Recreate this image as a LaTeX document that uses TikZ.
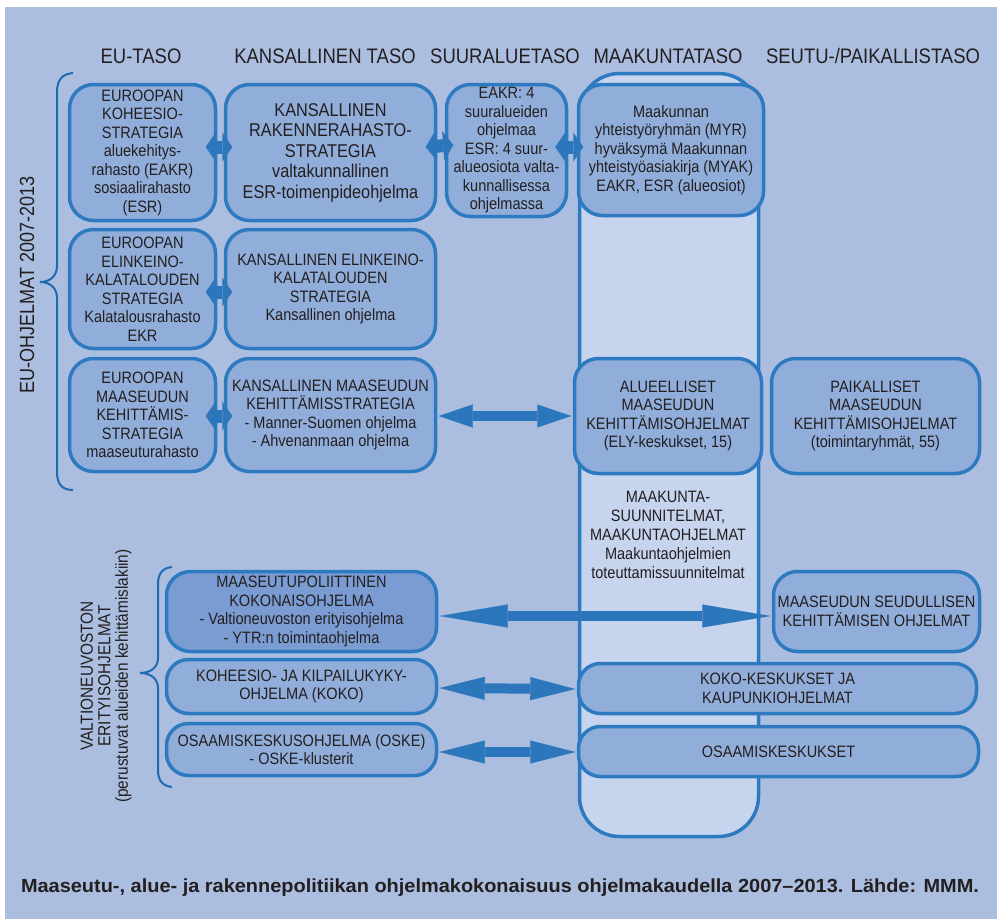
\documentclass[tikz,border=0pt]{standalone}
\usepackage{fontspec}
\usepackage{graphicx}
\setmainfont{Liberation Sans}[FakeStretch=0.88]
\usetikzlibrary{arrows.meta}
\definecolor{bgc}{HTML}{ABBEE0}
\definecolor{boxc}{HTML}{91ADD9}
\definecolor{boxk}{HTML}{7B9CD2}
\definecolor{colc}{HTML}{C6D4EE}
\definecolor{bordc}{HTML}{2E7AC0}
\definecolor{arrc}{HTML}{2C76BC}
\definecolor{bracec}{HTML}{1F6AB2}
\definecolor{txt}{HTML}{231F20}
\begin{document}
\begin{tikzpicture}[x=1pt,y=-1pt,
  box/.style={draw=bordc, line width=3.5pt, fill=boxc, rounded corners=24pt, align=center, text=txt, inner sep=0pt, font=\fontsize{16.5}{18.5}\selectfont},
  sz/.style 2 args={minimum width=#1pt, minimum height=#2pt},
  title/.style={text=txt, font=\fontsize{21}{23}\selectfont, inner sep=0pt},
  fat/.style={draw=arrc, line width=13pt, {Triangle[length=10pt,width=29pt,line width=0.1pt]}-{Triangle[length=10pt,width=29pt,line width=0.1pt]}},
  dbl/.style={draw=arrc, line width=10pt, {Triangle[length=#1pt,width=23pt,line width=0.1pt]}-{Triangle[length=#1pt,width=23pt,line width=0.1pt]}},
  brace/.style={draw=bracec, line width=2pt}
]
\useasboundingbox (0,0) rectangle (997,919);
\fill[white] (0,0) rectangle (997,919);
\fill[bgc] (5,7) rectangle (997,919);

% titles
\node[title] (t1) at (141,56) {EU-TASO};
\node[title] (t2) at (325,56) {KANSALLINEN TASO};
\node[title] (t3) at (505,56) {SUURALUETASO};
\node[title] (t4) at (668,56) {MAAKUNTATASO};
\node[title] (t5) at (873,56) {SEUTU-/PAIKALLISTASO};

% tall column
\node[draw=bordc, line width=3.5pt, fill=colc, rounded corners=40pt, sz={179}{763}, inner sep=0pt] (col) at (669,455) {};
\node[text=txt, align=center, font=\fontsize{16.5}{19}\selectfont, inner sep=0pt] (colt) at (668,535)
  {MAAKUNTA-\\SUUNNITELMAT,\\MAAKUNTAOHJELMAT\\Maakuntaohjelmien\\toteuttamissuunnitelmat};

% row 1
\node[box, sz={146}{136}] (A) at (142.5,152.5)
  {EUROOPAN\\KOHEESIO-\\STRATEGIA\\aluekehitys-\\rahasto (EAKR)\\sosiaalirahasto\\(ESR)};
\node[box, sz={210}{136}, font=\fontsize{18.5}{20.5}\selectfont] (B) at (330.5,152.5)
  {KANSALLINEN\\RAKENNERAHASTO-\\STRATEGIA\\valtakunnallinen\\ESR-toimenpideohjelma};
\node[box, sz={120}{132}] (C) at (506.5,150.5)
  {EAKR: 4\\suuralueiden\\ohjelmaa\\ESR: 4 suur-\\alueosiota valta-\\kunnallisessa\\ohjelmassa};
\node[box, sz={185}{131}] (D) at (671,150)
  {Maakunnan\\yhteistyöryhmän (MYR)\\hyväksymä Maakunnan\\yhteistyöasiakirja (MYAK)\\EAKR, ESR (alueosiot)};

% row 2
\node[box, sz={146}{119}] (E) at (142.5,289)
  {EUROOPAN\\ELINKEINO-\\KALATALOUDEN\\STRATEGIA\\Kalatalousrahasto\\EKR};
\node[box, sz={210}{119}] (F) at (330.5,289)
  {KANSALLINEN ELINKEINO-\\KALATALOUDEN\\STRATEGIA\\Kansallinen ohjelma};

% row 3
\node[box, sz={146}{113}] (G) at (142.5,415)
  {EUROOPAN\\MAASEUDUN\\KEHITTÄMIS-\\STRATEGIA\\maaseuturahasto};
\node[box, sz={210}{113}] (H) at (330.5,415)
  {KANSALLINEN MAASEUDUN\\KEHITTÄMISSTRATEGIA\\- Manner-Suomen ohjelma\\- Ahvenanmaan ohjelma};
\node[box, sz={187}{115}] (I) at (668,416)
  {ALUEELLISET\\MAASEUDUN\\KEHITTÄMISOHJELMAT\\(ELY-keskukset, 15)};
\node[box, sz={208}{115}] (J) at (875.5,416)
  {PAIKALLISET\\MAASEUDUN\\KEHITTÄMISOHJELMAT\\(toimintaryhmät, 55)};

% lower rows
\node[box, fill=boxk, sz={270}{80}] (K) at (301.5,611.5)
  {MAASEUTUPOLIITTINEN\\KOKONAISOHJELMA\\- Valtioneuvoston erityisohjelma\\- YTR:n toimintaohjelma};
\node[box, sz={270}{54}, rounded corners=22pt] (L) at (301.5,686.5)
  {KOHEESIO- JA KILPAILUKYKY-\\OHJELMA (KOKO)};
\node[box, sz={270}{52}, rounded corners=22pt] (M) at (301.5,749.5)
  {OSAAMISKESKUSOHJELMA (OSKE)\\- OSKE-klusterit};
\node[box, sz={206}{80}] (N) at (876.5,611.5)
  {MAASEUDUN SEUDULLISEN\\KEHITTÄMISEN OHJELMAT};
\node[box, sz={398}{50}, rounded corners=22pt] (O) at (777.5,688.5)
  {KOKO-KESKUKSET JA\\KAUPUNKIOHJELMAT};
\node[box, sz={400}{50}, rounded corners=22pt] (P) at (778.5,751.5)
  {OSAAMISKESKUKSET};

% short fat arrows
\draw[fat] ([xshift=-11.5pt,yshift=5.5pt]A.east) -- ([xshift=8.5pt,yshift=5.5pt]B.west);
\draw[fat] ([xshift=-11.5pt,yshift=5.5pt]B.east) -- ([xshift=8.5pt,yshift=5.5pt]C.west);
\draw[fat] ([xshift=-13pt,yshift=3.5pt]C.east) -- ([xshift=6.5pt,yshift=3pt]D.west);
\draw[fat] ([xshift=-11.5pt,yshift=-3pt]E.east) -- ([xshift=8.5pt,yshift=-3pt]F.west);
\draw[fat] ([xshift=-11.5pt,yshift=-1pt]G.east) -- ([xshift=8.5pt,yshift=-1pt]H.west);

% long arrows
\draw[dbl=34] ([xshift=1.5pt,yshift=-1pt]H.east) -- ([xshift=-1.5pt]I.west);
\draw[dbl=68] ([xshift=1.5pt,yshift=-4.5pt]K.east) -- ([xshift=-1.5pt,yshift=-4.5pt]N.west);
\draw[dbl=45] ([xshift=1.5pt,yshift=-1.5pt]L.east) -- ([xshift=-1.5pt,yshift=-0.5pt]O.west);
\draw[dbl=45] ([xshift=1.5pt,yshift=-2.5pt]M.east) -- ([xshift=-1.5pt,yshift=-0.5pt]P.west);

% braces
\draw[brace] (73,73) .. controls (62,74) and (57,80) .. (57,92) -- (57,266)
  .. controls (57,276) and (50,282) .. (40,282) .. controls (50,282) and (57,288) .. (57,298)
  -- (57,472) .. controls (57,484) and (62,490) .. (73,490);
\draw[brace] (172,567) .. controls (163,568) and (158,573) .. (158,584) -- (158,658)
  .. controls (158,667) and (151,673) .. (140,673) .. controls (151,673) and (158,679) .. (158,688)
  -- (158,770) .. controls (158,781) and (163,786) .. (172,787);

% side labels
\node[rotate=90, text=txt, font=\fontsize{20.5}{22}\selectfont, inner sep=0pt] (eul) at (27,285) {EU-OHJELMAT 2007-2013};
\node[rotate=90, text=txt, align=center, font=\fontsize{17.5}{17.5}\selectfont, inner sep=0pt] (vnl) at (106,676)
  {VALTIONEUVOSTON\\ERITYISOHJELMAT\\(perustuvat alueiden kehittämislakiin)};

% caption
\node[text=txt, inner sep=0pt] (cap) at (500,888)
  {\resizebox{958pt}{\height}{\bfseries\fontsize{19}{21}\selectfont Maaseutu-, alue- ja rakennepolitiikan ohjelmakokonaisuus ohjelmakaudella 2007–2013. Lähde: MMM.}};
\end{tikzpicture}
\end{document}
